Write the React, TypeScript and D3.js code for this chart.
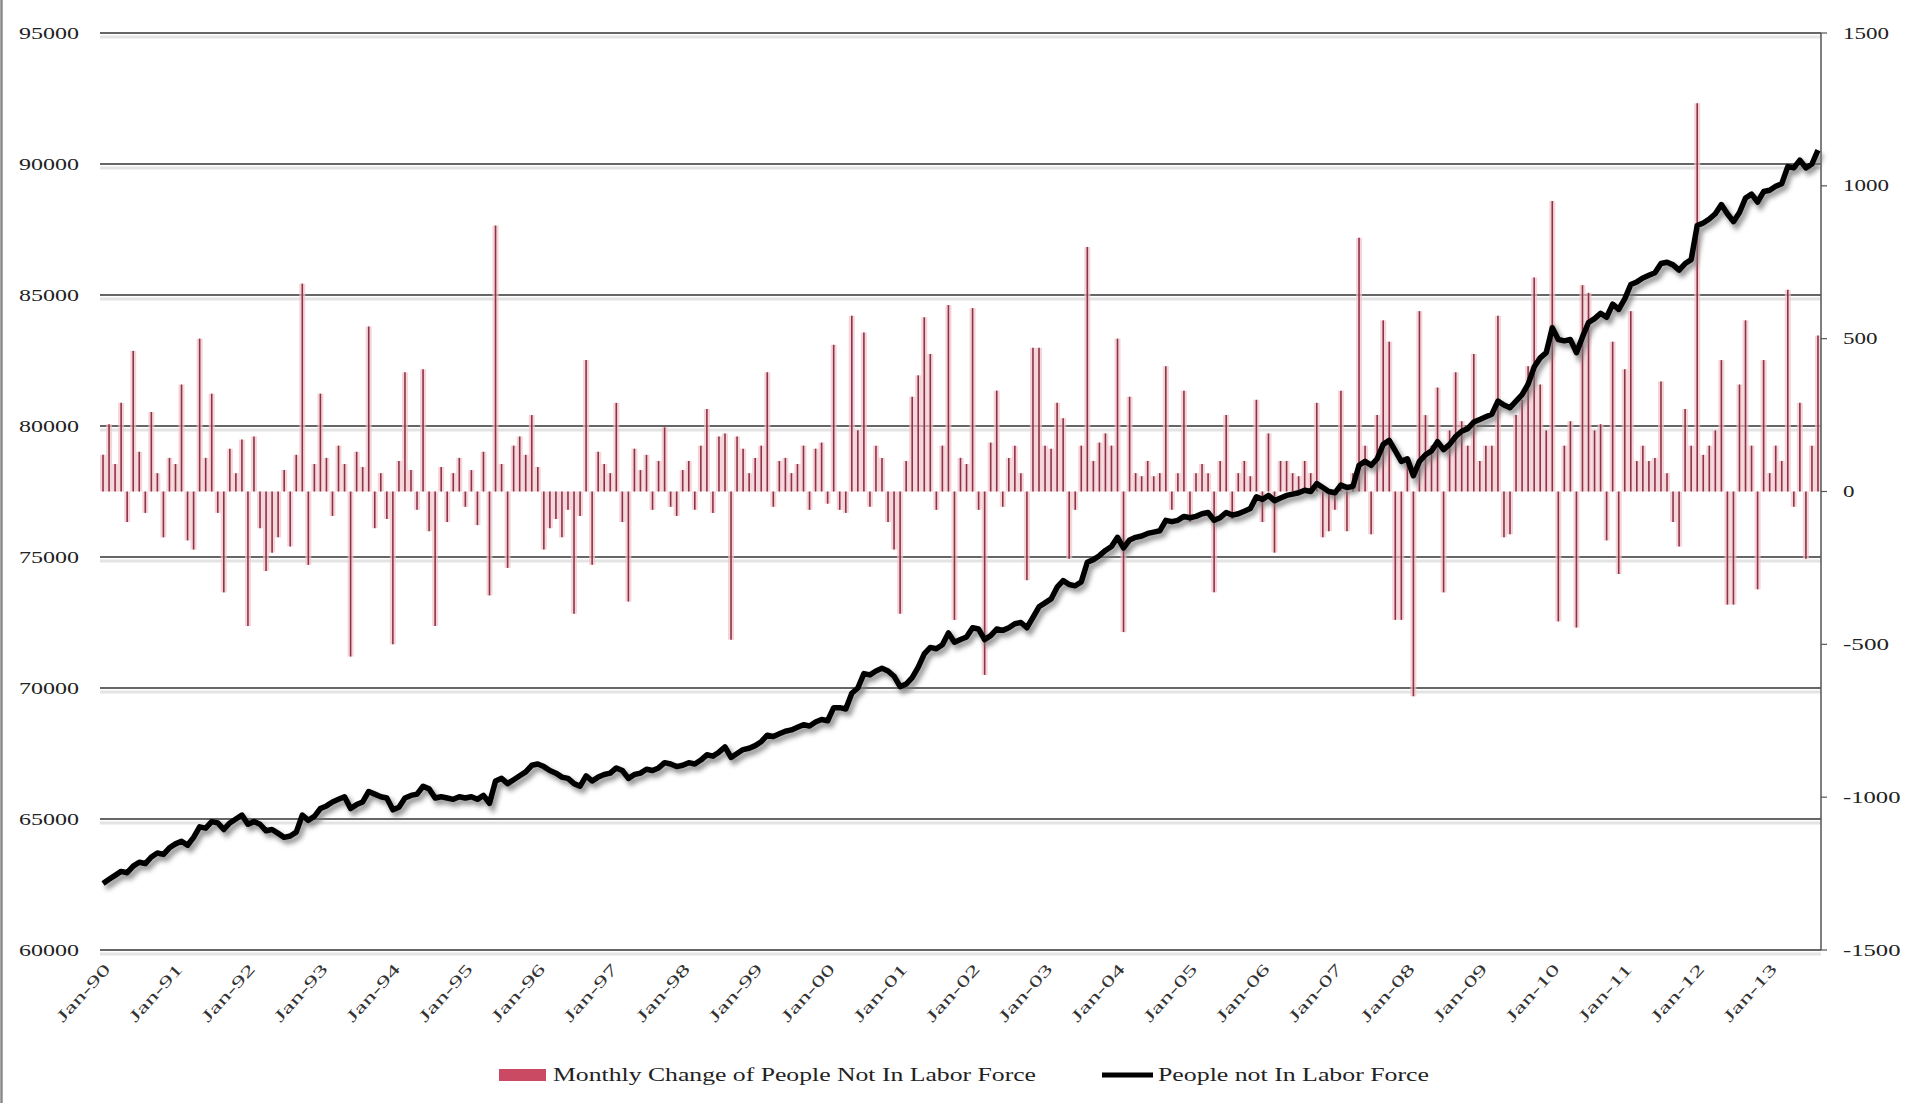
import * as d3 from "d3"

// People not in labor force (thousands), Jan-90 .. Sep-13
const notInLaborForce = [
  62540, 62700, 62850, 63000, 62950, 63200, 63350, 63300, 63550, 63700, 63650, 63900, // 1990
  64050, 64150, 64000, 64300, 64700, 64650, 64900, 64850, 64600, 64850, 65000, 65150, // 1991
  64800, 64900, 64800, 64550, 64600, 64450, 64300, 64350, 64500, 65150, 64950, 65100, // 1992
  65400, 65500, 65650, 65750, 65850, 65400, 65550, 65650, 66050, 65950, 65850, 65800, // 1993
  65350, 65450, 65800, 65900, 65950, 66250, 66150, 65800, 65850, 65800, 65750, 65850, // 1994
  65800, 65850, 65750, 65900, 65600, 66450, 66550, 66350, 66500, 66650, 66800, 67050, // 1995
  67100, 67000, 66850, 66750, 66600, 66550, 66350, 66250, 66650, 66450, 66600, 66700, // 1996
  66750, 66950, 66850, 66550, 66700, 66750, 66900, 66850, 66950, 67150, 67100, 67000, // 1997
  67050, 67150, 67100, 67250, 67450, 67400, 67550, 67750, 67350, 67500, 67650, 67700, // 1998
  67800, 67950, 68200, 68150, 68250, 68350, 68400, 68500, 68600, 68550, 68700, 68800, // 1999
  68750, 69250, 69250, 69200, 69800, 70000, 70550, 70500, 70650, 70750, 70650, 70450, // 2000
  70050, 70150, 70400, 70800, 71300, 71550, 71500, 71650, 72100, 71750, 71850, 71950, // 2001
  72300, 72250, 71850, 72000, 72250, 72200, 72300, 72450, 72500, 72300, 72700, 73100, // 2002
  73250, 73400, 73850, 74100, 73950, 73900, 74050, 74800, 74900, 75050, 75250, 75400, // 2003
  75750, 75350, 75650, 75750, 75800, 75900, 75950, 76000, 76400, 76350, 76400, 76550, // 2004
  76500, 76550, 76650, 76700, 76400, 76500, 76700, 76600, 76650, 76750, 76850, 77300, // 2005
  77200, 77350, 77150, 77250, 77350, 77400, 77450, 77550, 77500, 77800, 77650, 77500, // 2006
  77450, 77750, 77650, 77700, 78500, 78650, 78500, 78750, 79300, 79450, 79050, 78650, // 2007
  78750, 78100, 78650, 78900, 79050, 79400, 79100, 79300, 79600, 79800, 79900, 80150, // 2008
  80250, 80350, 80450, 80950, 80800, 80700, 80950, 81200, 81600, 82250, 82600, 82800, // 2009
  83750, 83300, 83250, 83300, 82800, 83400, 83950, 84100, 84300, 84150, 84650, 84450, // 2010
  84850, 85400, 85500, 85650, 85750, 85850, 86200, 86250, 86150, 85950, 86200, 86350, // 2011
  87650, 87750, 87900, 88100, 88450, 88100, 87800, 88150, 88700, 88850, 88550, 88950, // 2012
  89000, 89150, 89250, 89900, 89850, 90150, 89850, 90000, 90530,                      // 2013
]

// Monthly change of people not in labor force (thousands)
const monthlyChange = [
  120, 220, 90, 290, -100, 460, 130, -70, 260, 60, -150, 110, // 1990
  90, 350, -160, -190, 500, 110, 320, -70, -330, 140, 60, 170, // 1991
  -440, 180, -120, -260, -200, -150, 70, -180, 120, 680, -240, 90, // 1992
  320, 110, -80, 150, 90, -540, 130, 80, 540, -120, 60, -90, // 1993
  -500, 100, 390, 70, -60, 400, -130, -440, 80, -100, 60, 110, // 1994
  -50, 70, -110, 130, -340, 870, 90, -250, 150, 180, 120, 250, // 1995
  80, -190, -120, -90, -150, -60, -400, -80, 430, -240, 130, 90, // 1996
  60, 290, -100, -360, 140, 70, 120, -60, 100, 210, -50, -80, // 1997
  70, 100, -60, 150, 270, -70, 180, 190, -485, 180, 140, 60, // 1998
  110, 150, 390, -50, 100, 110, 60, 90, 150, -60, 140, 160, // 1999
  -40, 480, -60, -70, 575, 200, 520, -50, 150, 110, -100, -190, // 2000
  -400, 100, 310, 380, 570, 450, -60, 150, 610, -420, 110, 90, // 2001
  600, -60, -600, 160, 330, -50, 110, 150, 60, -290, 470, 470, // 2002
  150, 140, 290, 240, -220, -60, 150, 800, 100, 160, 190, 150, // 2003
  500, -460, 310, 60, 50, 100, 50, 60, 410, -60, 60, 330, // 2004
  -100, 60, 90, 60, -330, 100, 250, -90, 60, 100, 50, 300, // 2005
  -100, 190, -200, 100, 100, 60, 50, 100, 60, 290, -150, -130, // 2006
  -60, 330, -130, 60, 830, 150, -140, 250, 560, 490, -420, -420, // 2007
  100, -670, 590, 250, 150, 340, -330, 200, 390, 230, 150, 450, // 2008
  100, 150, 150, 575, -150, -140, 250, 300, 410, 700, 350, 200, // 2009
  950, -425, 150, 230, -445, 675, 650, 200, 220, -160, 490, -270, // 2010
  400, 590, 100, 150, 100, 110, 360, 60, -100, -180, 270, 150, // 2011
  1270, 120, 150, 200, 430, -370, -370, 350, 560, 150, -320, 430, // 2012
  60, 150, 100, 660, -50, 290, -220, 150, 510, // 2013
]

const leftTicks = [60000, 65000, 70000, 75000, 80000, 85000, 90000, 95000]
const rightTicks = [-1500, -1000, -500, 0, 500, 1000, 1500]
const yearLabels = [
  "Jan-90", "Jan-91", "Jan-92", "Jan-93", "Jan-94", "Jan-95", "Jan-96", "Jan-97",
  "Jan-98", "Jan-99", "Jan-00", "Jan-01", "Jan-02", "Jan-03", "Jan-04", "Jan-05",
  "Jan-06", "Jan-07", "Jan-08", "Jan-09", "Jan-10", "Jan-11", "Jan-12", "Jan-13",
]
const barName = "Monthly Change of People Not In Labor Force"
const lineName = "People not In Labor Force"

const months = d3.timeMonth.range(new Date(1990, 0, 1), new Date(2013, 9, 1))

const W = 1907
const H = 1103
const plot = { left: 100, right: 1821, top: 33, bottom: 950 }
const font = "'Liberation Serif', 'Times New Roman', serif"

export default function App() {
  const x = d3
    .scaleBand<number>()
    .domain(months.map((_, i) => i))
    .range([plot.left, plot.right])
  const bw = x.bandwidth()
  const cx = (i: number) => (x(i) ?? 0) + bw / 2

  const yL = d3.scaleLinear().domain([60000, 95000]).range([plot.bottom, plot.top])
  const yR = d3.scaleLinear().domain([-1500, 1500]).range([plot.bottom, plot.top])

  const line = d3
    .line<number>()
    .x((_, i) => cx(i))
    .y((d) => yL(d))

  const path = line(notInLaborForce) ?? ""

  return (
    <div style={{ position: "absolute", left: 0, top: 0, background: "#fff" }}>
      <svg width={W} height={H} viewBox={`0 0 ${W} ${H}`} style={{ display: "block", fontFamily: font }}>
        <defs>
          <filter id="shadow" x="-5%" y="-5%" width="110%" height="110%">
            <feGaussianBlur stdDeviation="2.5" />
          </filter>
        </defs>
        <rect width={W} height={H} fill="#fff" />
        <line x1={1.5} x2={1.5} y1={0} y2={H} stroke="#8a8a8a" strokeWidth={2.5} />

        {/* gridlines (left axis) */}
        {leftTicks.map((t) => (
          <g key={t}>
            <line x1={plot.left} x2={plot.right} y1={yL(t) + 4} y2={yL(t) + 4} stroke="#e4e4e4" strokeWidth={3} />
            <line x1={plot.left} x2={plot.right} y1={yL(t)} y2={yL(t)} stroke="#666" strokeWidth={1.8} />
            <text
              x={79}
              y={yL(t)}
              dy="0.35em"
              textAnchor="end"
              fontSize={16}
              fill="#222"
              textLength={String(t).length * 12}
              lengthAdjust="spacingAndGlyphs"
            >
              {t}
            </text>
          </g>
        ))}

        {/* bars (right axis) */}
        <g>
          {monthlyChange.map((v, i) => {
            const y0 = yR(0)
            const y1 = yR(v)
            return (
              <g key={i}>
                <rect
                  x={cx(i) - bw * 0.5}
                  y={Math.min(y0, y1)}
                  width={bw}
                  height={Math.abs(y1 - y0)}
                  fill="#f2c3ca"
                  opacity={0.7}
                />
                <line x1={cx(i)} x2={cx(i)} y1={y0} y2={y1} stroke="#8c3446" strokeWidth={1.6} />
              </g>
            )
          })}
        </g>

        {/* right axis */}
        <line x1={plot.right} x2={plot.right} y1={plot.top} y2={plot.bottom} stroke="#555" strokeWidth={1.5} />
        {rightTicks.map((t) => (
          <g key={t}>
            <line x1={plot.right} x2={plot.right + 6} y1={yR(t)} y2={yR(t)} stroke="#555" strokeWidth={1.2} />
            <text
              x={1843}
              y={yR(t)}
              dy="0.35em"
              fontSize={16}
              fill="#222"
              textLength={String(t).length * 11.5}
              lengthAdjust="spacingAndGlyphs"
            >
              {t}
            </text>
          </g>
        ))}

        {/* line with soft shadow */}
        <path d={path} fill="none" stroke="#777" strokeWidth={6} transform="translate(3,4)" filter="url(#shadow)" opacity={0.8} />
        <path d={path} fill="none" stroke="#000" strokeWidth={5.5} strokeLinejoin="round" />

        {/* x labels */}
        {yearLabels.map((lab, k) => {
          const px = cx(k * 12) + 4
          const py = 966
          return (
            <text
              key={lab}
              transform={`translate(${px},${py}) rotate(-48)`}
              textAnchor="end"
              dy="0.35em"
              fontSize={16}
              fill="#333"
              textLength={lab.length * 12}
              lengthAdjust="spacingAndGlyphs"
            >
              {lab}
            </text>
          )
        })}

        {/* legend */}
        <rect x={499} y={1069} width={47} height={12} fill="#c94a62" />
        <text x={553} y={1081} fontSize={18} fill="#222" textLength={483} lengthAdjust="spacingAndGlyphs">
          {barName}
        </text>
        <line x1={1102} x2={1153} y1={1075} y2={1075} stroke="#000" strokeWidth={5} />
        <text x={1158} y={1081} fontSize={18} fill="#222" textLength={271} lengthAdjust="spacingAndGlyphs">
          {lineName}
        </text>
      </svg>
    </div>
  )
}
